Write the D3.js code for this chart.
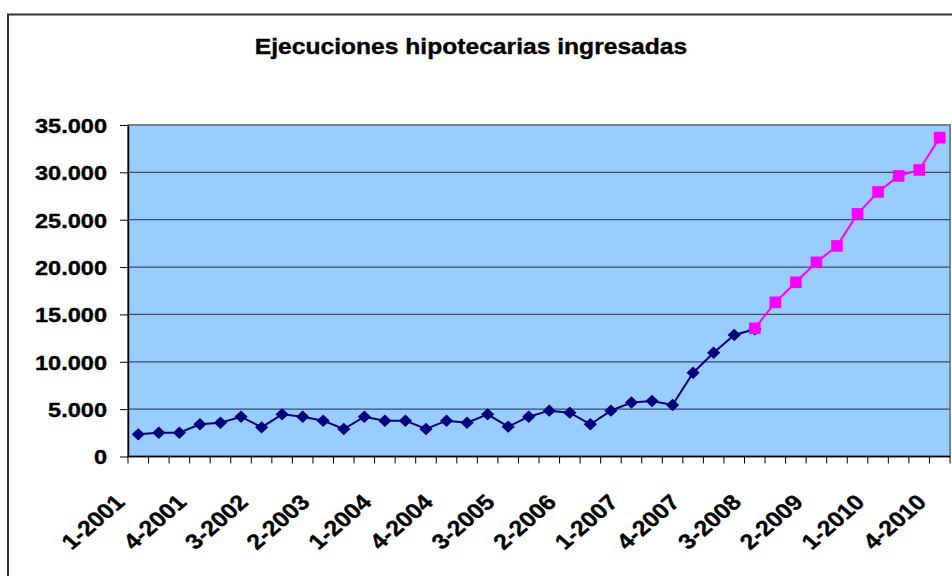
<!DOCTYPE html>
<html>
<head>
<meta charset="utf-8">
<script src="https://cdn.jsdelivr.net/npm/d3@7"></script>
<style>
  html, body { margin: 0; padding: 0; background: #fff; }
  svg { display: block; font-family: "Liberation Sans", Arial, sans-serif; }
  .lbl { font-weight: bold; fill: #000; stroke: #000; stroke-width: 0.35px; }
</style>
</head>
<body>
<svg id="chart" width="952" height="576"></svg>
<script>
// trimestres 1-2001 .. 4-2010
const trimestres = [
    '1-2001', '2-2001', '3-2001', '4-2001',
    '1-2002', '2-2002', '3-2002', '4-2002',
    '1-2003', '2-2003', '3-2003', '4-2003',
    '1-2004', '2-2004', '3-2004', '4-2004',
    '1-2005', '2-2005', '3-2005', '4-2005',
    '1-2006', '2-2006', '3-2006', '4-2006',
    '1-2007', '2-2007', '3-2007', '4-2007',
    '1-2008', '2-2008', '3-2008', '4-2008',
    '1-2009', '2-2009', '3-2009', '4-2009',
    '1-2010', '2-2010', '3-2010', '4-2010'
];

// serie observada (1-2001 .. 3-2008)
const ejecuciones = [
    2340, 2510, 2510, 3400, 3570, 4200, 3080, 4450, 4200, 3780,
    2900, 4200, 3780, 3780, 2900, 3780, 3570, 4450, 3150, 4200,
    4840, 4630, 3400, 4840, 5700, 5860, 5440, 8850, 10960, 12830,
    13430
];

// serie rosa (3-2008 .. 4-2010)
const ejecucionesRosa = [13540, 16280, 18390, 20500, 22230, 25610, 27930, 29620, 30250, 33670];
const inicioRosa = 30;

const yTicks = [0, 5000, 10000, 15000, 20000, 25000, 30000, 35000];
const xLabelEvery = 3;

const svg = d3.select('#chart');
const stretch = 1.15;   // the original picture is widened horizontally

const plot = { left: 128, right: 950, top: 125, bottom: 456.5 };

const x = d3.scaleBand()
            .domain(trimestres)
            .range([plot.left, plot.right]);
const y = d3.scaleLinear()
            .domain([0, 35000])
            .range([plot.bottom, plot.top]);

const es = d3.formatLocale({ decimal: ',', thousands: '.', grouping: [3], currency: ['', ''] });
const fmt = es.format(',d');

// outer frame
svg.append('rect')
    .attr('x', 8).attr('y', 14.5)
    .attr('width', 960).attr('height', 600)
    .attr('fill', 'none')
    .attr('stroke', '#333')
    .attr('stroke-width', 2);

// title
svg.append('text')
    .attr('class', 'lbl')
    .attr('transform', 'translate(471,54) scale(1.12,1)')
    .attr('text-anchor', 'middle')
    .style('font-size', '22px')
    .text('Ejecuciones hipotecarias ingresadas');

// plot area
svg.append('rect')
    .attr('x', plot.left).attr('y', plot.top)
    .attr('width', plot.right - plot.left)
    .attr('height', plot.bottom - plot.top)
    .attr('fill', '#99ccff')
    .attr('stroke', '#808080')
    .attr('stroke-width', 2);

// gridlines
svg.append('g')
    .selectAll('line')
    .data(yTicks.filter(d => d > 0 && d < 35000))
    .enter()
    .append('line')
        .attr('x1', plot.left).attr('x2', plot.right)
        .attr('y1', d => y(d)).attr('y2', d => y(d))
        .attr('stroke', '#3b4d63')
        .attr('stroke-width', 1.2);

// y axis
const yAxis = svg.append('g')
    .attr('transform', 'translate(' + plot.left + ',0)')
    .call(d3.axisLeft(y).tickValues(yTicks).tickSize(8).tickSizeOuter(0).tickFormat(fmt));
yAxis.select('.domain').attr('stroke', '#000').attr('stroke-width', 1.5);
yAxis.selectAll('.tick line').attr('stroke', '#000');
yAxis.selectAll('.tick text')
    .attr('class', 'lbl')
    .attr('x', 0)
    .attr('dy', '0.36em')
    .attr('transform', 'translate(-21,0) scale(' + stretch + ',1)')
    .style('font-size', '20.5px')
    .style('font-family', '"Liberation Sans", Arial, sans-serif');

// x axis: line and ticks at category edges
const xAxis = svg.append('g');
xAxis.append('line')
    .attr('x1', plot.left).attr('x2', plot.right)
    .attr('y1', y(0)).attr('y2', y(0))
    .attr('stroke', '#000')
    .attr('stroke-width', 1.5);
const edges = trimestres.map(d => x(d)).concat([x.range()[1]]);
xAxis.selectAll('line.tk')
    .data(edges)
    .enter()
    .append('line')
        .attr('class', 'tk')
        .attr('x1', d => d).attr('x2', d => d)
        .attr('y1', y(0)).attr('y2', y(0) + 7)
        .attr('stroke', '#000');

xAxis.selectAll('text')
    .data(trimestres.filter((d, i) => i % xLabelEvery === 0))
    .enter()
    .append('text')
        .attr('class', 'lbl')
        .attr('transform', d => 'translate(' + (x(d) + x.bandwidth() / 2 - 12) + ',' + (y(0) + 47) + ') scale(' + stretch + ',1) rotate(-45)')
        .attr('text-anchor', 'end')
        .style('font-size', '21.5px')
        .text(d => d);

const cx = i => x(trimestres[i]) + x.bandwidth() / 2;

// navy series
const linea = d3.line()
    .x(d => cx(d.i))
    .y(d => y(d.v));

const datosAzul = ejecuciones.map((v, i) => ({ i: i, v: v }));
const datosRosa = ejecucionesRosa.map((v, i) => ({ i: i + inicioRosa, v: v }));

svg.append('path')
    .datum(datosAzul)
    .attr('d', linea)
    .attr('fill', 'none')
    .attr('stroke', '#000080')
    .attr('stroke-width', 2);

svg.append('g')
    .selectAll('path')
    .data(datosAzul)
    .enter()
    .append('path')
        .attr('transform', d => 'translate(' + cx(d.i) + ',' + y(d.v) + ')')
        .attr('d', 'M0,-6.2L6.6,0L0,6.2L-6.6,0Z')
        .attr('fill', '#000080');

// magenta series
svg.append('path')
    .datum(datosRosa)
    .attr('d', linea)
    .attr('fill', 'none')
    .attr('stroke', '#ff00ff')
    .attr('stroke-width', 2);

svg.append('g')
    .selectAll('rect')
    .data(datosRosa)
    .enter()
    .append('rect')
        .attr('x', d => cx(d.i) - 5.8)
        .attr('y', d => y(d.v) - 5.8)
        .attr('width', 11.6)
        .attr('height', 11.6)
        .attr('fill', '#ff00ff');
</script>
</body>
</html>
